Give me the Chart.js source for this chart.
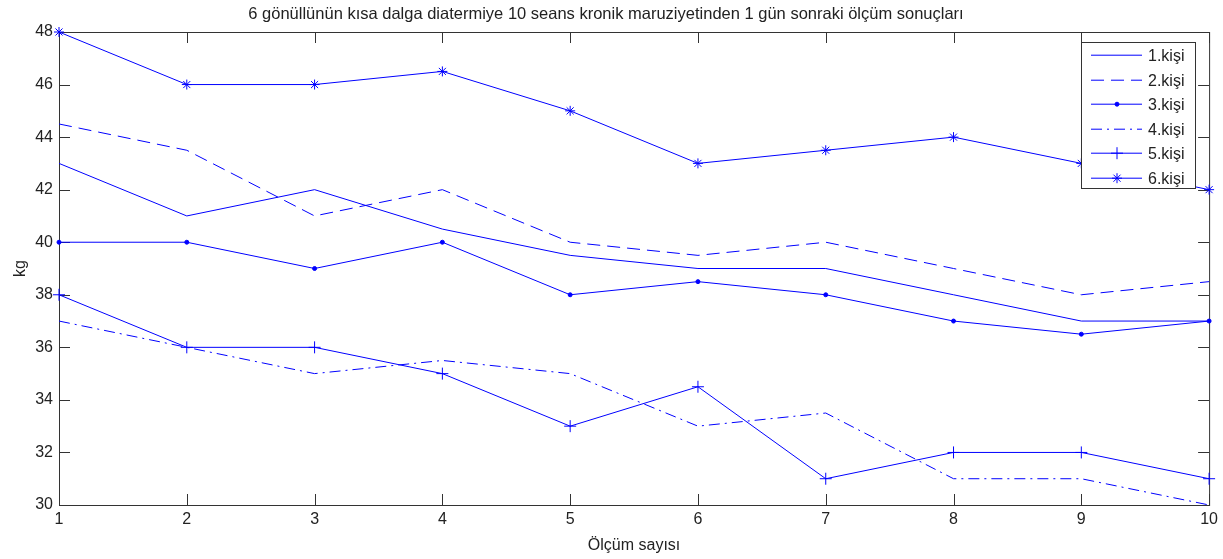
<!DOCTYPE html>
<html>
<head>
<meta charset="utf-8">
<script src="https://cdn.jsdelivr.net/npm/chart.js@4/dist/chart.umd.min.js"></script>
<style>
  html, body { margin: 0; padding: 0; background: #fff; }
  #wrap { width: 1223px; height: 559px; }
</style>
</head>
<body>
<div id="wrap"><canvas id="myChart"></canvas></div>
<script>
const olcum = [1, 2, 3, 4, 5, 6, 7, 8, 9, 10];
const kisi1 = [43, 41, 42, 40.5, 39.5, 39, 39, 38, 37, 37];
const kisi2 = [44.5, 43.5, 41, 42, 40, 39.5, 40, 39, 38, 38.5];
const kisi3 = [40, 40, 39, 40, 38, 38.5, 38, 37, 36.5, 37];
const kisi4 = [37, 36, 35, 35.5, 35, 33, 33.5, 31, 31, 30];
const kisi5 = [38, 36, 36, 35, 33, 34.5, 31, 32, 32, 31];
const kisi6 = [48, 46, 46, 46.5, 45, 43, 43.5, 44, 43, 42];
const seriesNames = ['1.kişi', '2.kişi', '3.kişi', '4.kişi', '5.kişi', '6.kişi'];

const blue = 'rgb(0, 0, 255)';
const font = 'Arial, "Liberation Sans", sans-serif';

const pts = (vals) => vals.map((v, i) => ({ x: olcum[i], y: v }));

const mk = (label, data, extra) => ({
  label,
  data: pts(data),
  borderColor: blue,
  backgroundColor: blue,
  borderWidth: 1,
  pointRadius: 0,
  pointBorderWidth: 1,
  tension: 0,
  clip: false,
  ...extra,
});

// inward ticks + box, MATLAB style
const boxTicks = {
  id: 'boxTicks',
  beforeDatasetsDraw(chart) {
    const { ctx, chartArea: a, scales } = chart;
    ctx.save();
    ctx.strokeStyle = '#333';
    ctx.lineWidth = 1;
    ctx.strokeRect(a.left + 0.5, a.top + 0.5, a.right - a.left, a.bottom - a.top);
    ctx.beginPath();
    for (const t of scales.x.ticks) {
      const px = Math.round(scales.x.getPixelForValue(t.value)) + 0.5;
      ctx.moveTo(px, a.bottom); ctx.lineTo(px, a.bottom - 11);
      ctx.moveTo(px, a.top); ctx.lineTo(px, a.top + 11);
    }
    for (const t of scales.y.ticks) {
      const py = Math.round(scales.y.getPixelForValue(t.value)) + 0.5;
      ctx.moveTo(a.left, py); ctx.lineTo(a.left + 11, py);
      ctx.moveTo(a.right, py); ctx.lineTo(a.right - 11, py);
    }
    ctx.stroke();
    ctx.restore();
  },
};

// legend box inside the plot, top right
const boxLegend = {
  id: 'boxLegend',
  afterDraw(chart) {
    const { ctx } = chart;
    const x0 = 1081, y0 = 42, w = 114, h = 146;
    ctx.save();
    ctx.fillStyle = '#fff';
    ctx.fillRect(x0, y0, w, h);
    ctx.strokeStyle = '#333';
    ctx.lineWidth = 1;
    ctx.strokeRect(x0 + 0.5, y0 + 0.5, w, h);
    chart.data.datasets.forEach((ds, i) => {
      const y = Math.round(55 + i * 24.6) + 0.2;
      ctx.setLineDash(ds.borderDash || []);
      ctx.strokeStyle = blue;
      ctx.lineWidth = 1;
      ctx.beginPath();
      ctx.moveTo(1091, y); ctx.lineTo(1142, y);
      ctx.stroke();
      ctx.setLineDash([]);
      if (ds.pointRadius) {
        ctx.strokeStyle = blue;
        ctx.fillStyle = blue;
        Chart.helpers.drawPoint(ctx, {
          pointStyle: ds.pointStyle,
          radius: ds.pointRadius,
          borderWidth: 1,
        }, 1117, y);
      }
      ctx.fillStyle = '#222';
      ctx.font = '16px ' + font;
      ctx.textBaseline = 'middle';
      ctx.fillText(ds.label, 1148, y + 1);
    });
    ctx.restore();
  },
};

new Chart(document.getElementById('myChart'), {
  type: 'line',
  data: {
    datasets: [
      mk(seriesNames[0], kisi1, {}),
      mk(seriesNames[1], kisi2, { borderDash: [13, 7] }),
      mk(seriesNames[2], kisi3, { pointStyle: 'circle', pointRadius: 2 }),
      mk(seriesNames[3], kisi4, { borderDash: [11, 5, 2, 5] }),
      mk(seriesNames[4], kisi5, { pointStyle: 'cross', pointRadius: 6 }),
      mk(seriesNames[5], kisi6, { pointStyle: 'star', pointRadius: 5 }),
    ],
  },
  plugins: [boxTicks, boxLegend],
  options: {
    responsive: true,
    maintainAspectRatio: false,
    animation: false,
    layout: { padding: { top: 0, right: 11, left: 0, bottom: 0 } },
    plugins: {
      legend: { display: false },
      tooltip: { enabled: false },
      title: {
        display: true,
        text: '6 gönüllünün kısa dalga diatermiye 10 seans kronik maruziyetinden 1 gün sonraki ölçüm sonuçları',
        color: '#222',
        font: { family: font, size: 16.5, weight: 'normal', lineHeight: 1.2 },
        padding: { top: 5, bottom: 7.2 },
      },
    },
    scales: {
      x: {
        type: 'linear',
        min: 1,
        max: 10,
        ticks: { stepSize: 1, color: '#222', padding: 5, font: { family: font, size: 16 } },
        grid: { display: false, drawTicks: false },
        border: { display: false },
        title: {
          display: true,
          text: 'Ölçüm sayısı',
          color: '#222',
          font: { family: font, size: 16 },
          padding: { top: 0, bottom: 4 },
        },
        afterFit: (s) => { s.height = 54; },
      },
      y: {
        min: 30,
        max: 48,
        ticks: { stepSize: 2, color: '#222', padding: 6, font: { family: font, size: 16 } },
        grid: { display: false, drawTicks: false },
        border: { display: false },
        title: {
          display: true,
          text: 'kg',
          color: '#222',
          font: { family: font, size: 16 },
          padding: { top: 11, bottom: 0 },
        },
        afterFit: (s) => { s.width = 59; },
      },
    },
  },
});
</script>
</body>
</html>
